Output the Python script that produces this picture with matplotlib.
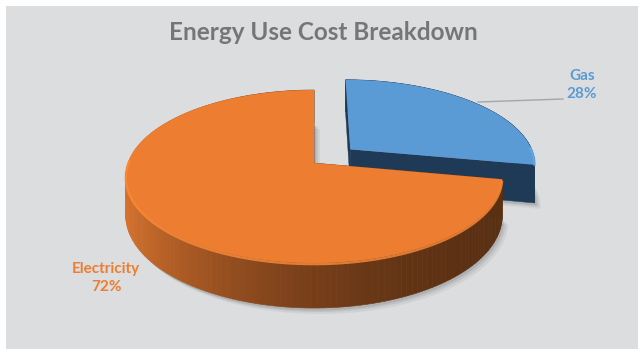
import numpy as np
import matplotlib
matplotlib.use("Agg")
import matplotlib.pyplot as plt
from matplotlib.patches import Polygon, Rectangle
from matplotlib.colors import to_rgb

# ---- data ----
categories = ["Gas", "Electricity"]
values = [28, 72]
top_colors = ["#5b9bd5", "#ed7d31"]
title = "Energy Use Cost Breakdown"
explode = [0.26, 0.0]

# ---- layout (pixels) ----
W, H = 639, 349
CX, CY = 314, 163          # projected pie centre
S, T, K, HGT = 186, 84.4, 0.156, 38   # width, depth, perspective, thickness

fig = plt.figure(figsize=(W / 100, H / 100), dpi=100)
fig.patch.set_facecolor("white")
ax = fig.add_axes([0, 0, 1, 1])
ax.set_xlim(0, W)
ax.set_ylim(H, 0)
ax.axis("off")
ax.add_patch(Rectangle((6, 6), 632, 343, facecolor="#dcdddf", edgecolor="none", zorder=0))


def proj(u, v, z=0.0):
    w = 1 + K * v
    return CX + S * u / w, CY - (T * v + HGT * z) / w


fr = np.array(values, float) / np.sum(values)
ends = np.cumsum(fr) * 2 * np.pi
starts = ends - fr * 2 * np.pi
mids = (starts + ends) / 2


def arc(a0, a1, du, dv, z, n=120):
    th = np.linspace(a0, a1, n)
    x, y = proj(np.sin(th) + du, np.cos(th) + dv, z)
    return np.column_stack([x, y])


def side_color(i, u):
    if i == 0:
        return to_rgb("#1f3a56")
    base = np.array(to_rgb(top_colors[i]))
    f = 0.38 + 0.55 * ((1 - u) / 2) ** 2.2
    return tuple(np.clip(base * f, 0, 1))


# ---- soft shadow ----
for k, (ox, oy, al) in enumerate([(6, 6, 0.05), (4, 4, 0.07), (2, 2.5, 0.09)]):
    for i in range(len(values)):
        du, dv = explode[i] * np.sin(mids[i]), explode[i] * np.cos(mids[i])
        pts = arc(starts[i], ends[i], du, dv, -1)
        c = np.array(proj(du, dv, -1))
        poly = np.vstack([c, pts]) + np.array([ox, oy])
        ax.add_patch(Polygon(poly, closed=True, facecolor="black", alpha=al,
                             edgecolor="none", zorder=1))

# ---- slices, far first ----
order = np.argsort(-np.cos(mids))
z = 2
for i in order:
    a0, a1 = starts[i], ends[i]
    du, dv = explode[i] * np.sin(mids[i]), explode[i] * np.cos(mids[i])
    ctop = proj(du, dv, 0)
    cbot = proj(du, dv, -1)
    # radial faces
    for a in (a0, a1):
        ptop = proj(np.sin(a) + du, np.cos(a) + dv, 0)
        pbot = proj(np.sin(a) + du, np.cos(a) + dv, -1)
        col = side_color(i, np.sin(a)) if i == 0 else tuple(np.array(to_rgb(top_colors[i])) * 0.5)
        ax.add_patch(Polygon([ctop, ptop, pbot, cbot], closed=True, facecolor=col,
                             edgecolor=col, lw=0.3, zorder=z))
    # outer wall strips
    th = np.linspace(a0, a1, 160)
    segs = []
    for j in range(len(th) - 1):
        t0, t1 = th[j], th[j + 1]
        tm = (t0 + t1) / 2
        q = [proj(np.sin(t0) + du, np.cos(t0) + dv, 0),
             proj(np.sin(t1) + du, np.cos(t1) + dv, 0),
             proj(np.sin(t1) + du, np.cos(t1) + dv, -1),
             proj(np.sin(t0) + du, np.cos(t0) + dv, -1)]
        segs.append((np.cos(tm), q, side_color(i, np.sin(tm))))
    segs.sort(key=lambda s: -s[0])
    for _, q, col in segs:
        ax.add_patch(Polygon(q, closed=True, facecolor=col, edgecolor=col, lw=0.4, zorder=z))
    # top face
    pts = arc(a0, a1, du, dv, 0)
    ax.add_patch(Polygon(np.vstack([ctop, pts]), closed=True, facecolor=top_colors[i],
                         edgecolor="none", zorder=z + 0.5))
    # bevel highlight on visible rim
    thv = np.linspace(a0, a1, 200)
    vis = np.cos(thv) < 0.05
    if vis.any():
        hx, hy = proj(np.sin(thv[vis]) + du, np.cos(thv[vis]) + dv, 0)
        hl = tuple(np.clip(np.array(to_rgb(top_colors[i])) * 1.12, 0, 1))
        ax.plot(hx, hy + 1.2, color=hl, lw=1.6, alpha=0.8, zorder=z + 0.6,
                solid_capstyle="butt")
    z += 1

# ---- labels ----
ax.plot([478, 563], [102, 99], color="#a6a6a6", lw=1.0, zorder=10)
ax.text(582, 85, f"{categories[0]}\n{values[0]}%", ha="center", va="center",
        color=top_colors[0], fontsize=11, fontweight="bold", family="Lato",
        linespacing=1.4, zorder=11)
ax.text(106, 278, f"{categories[1]}\n{values[1]}%", ha="center", va="center",
        color=top_colors[1], fontsize=11, fontweight="bold", family="Lato",
        linespacing=1.4, zorder=11)
ax.text(323, 33, title, ha="center", va="center", color="#767676",
        fontsize=17.5, fontweight="bold", family="Lato", zorder=11)

fig.savefig("out.png", dpi=100, facecolor=fig.get_facecolor())
